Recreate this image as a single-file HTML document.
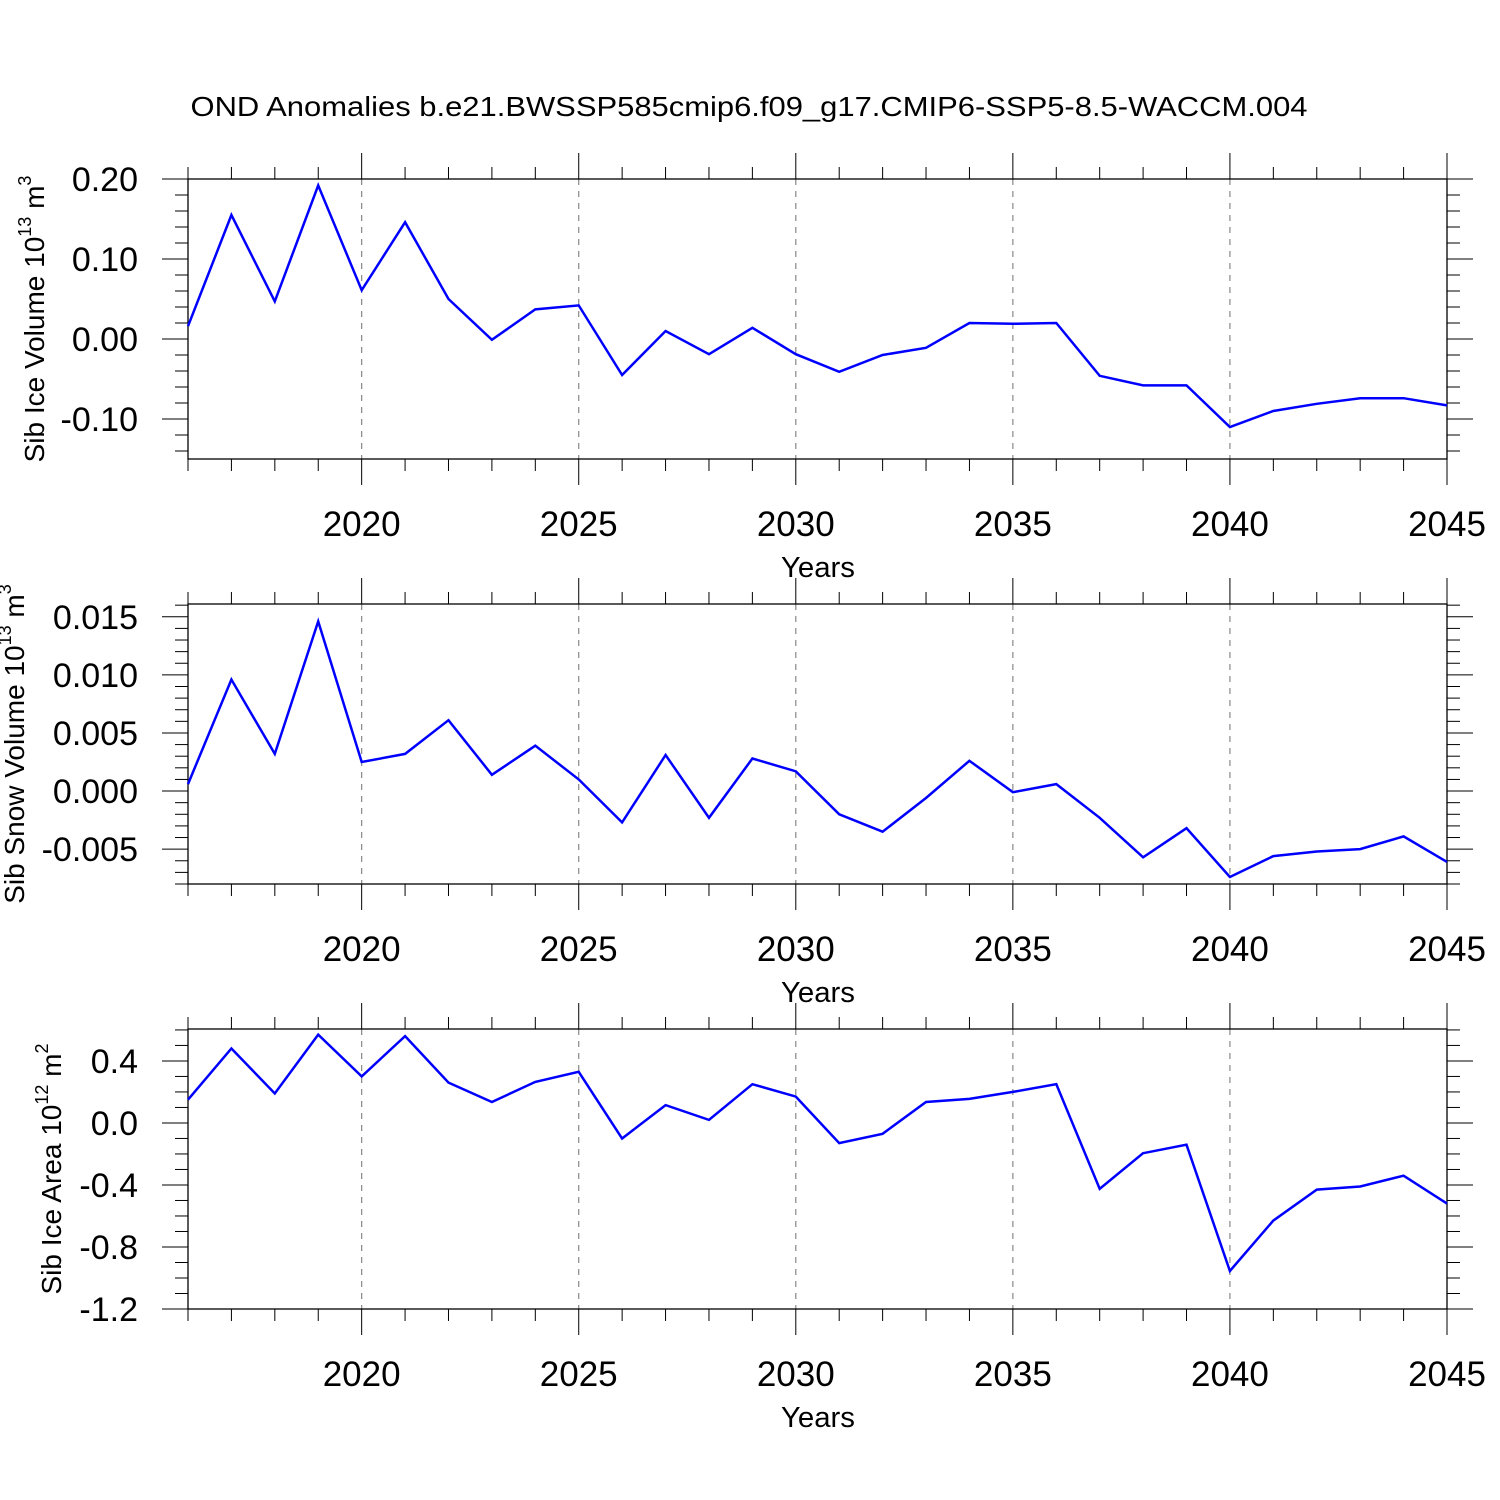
<!DOCTYPE html>
<html><head><meta charset="utf-8">
<style>html,body{margin:0;padding:0;background:#fff}svg{display:block}</style>
</head><body>
<svg id="chart" width="1500" height="1500" xmlns="http://www.w3.org/2000/svg" font-family="'Liberation Sans', sans-serif">
<rect width="1500" height="1500" fill="#fff"/>
<text x="749" y="116" font-size="28" text-anchor="middle" textLength="1117" lengthAdjust="spacingAndGlyphs">OND Anomalies b.e21.BWSSP585cmip6.f09_g17.CMIP6-SSP5-8.5-WACCM.004</text>
</svg>
<script>
const years = [2016,2017,2018,2019,2020,2021,2022,2023,2024,2025,2026,2027,2028,2029,2030,2031,2032,2033,2034,2035,2036,2037,2038,2039,2040,2041,2042,2043,2044,2045];
const iceVolume = [0.016,0.155,0.047,0.192,0.061,0.146,0.05,-0.001,0.037,0.042,-0.045,0.01,-0.019,0.014,-0.019,-0.041,-0.02,-0.011,0.02,0.019,0.02,-0.046,-0.058,-0.058,-0.11,-0.09,-0.081,-0.074,-0.074,-0.083];
const snowVolume = [0.0006,0.0096,0.0032,0.0146,0.0025,0.0032,0.0061,0.0014,0.0039,0.001,-0.0027,0.0031,-0.0023,0.0028,0.0017,-0.002,-0.0035,-0.0006,0.0026,-0.0001,0.0006,-0.0023,-0.0057,-0.0032,-0.0074,-0.0056,-0.0052,-0.005,-0.0039,-0.0061];
const iceArea = [0.15,0.48,0.19,0.57,0.30,0.56,0.26,0.135,0.265,0.33,-0.10,0.115,0.02,0.25,0.17,-0.13,-0.07,0.135,0.155,0.2,0.25,-0.425,-0.195,-0.14,-0.955,-0.63,-0.43,-0.41,-0.34,-0.52];
const xTickLabels = [2020,2025,2030,2035,2040,2045];
const iceVolTicks = [0.20,0.10,0.00,-0.10];
const snowVolTicks = [0.015,0.010,0.005,0.000,-0.005];
const iceAreaTicks = [0.4,0.0,-0.4,-0.8,-1.2];

const NS='http://www.w3.org/2000/svg';
const svg=document.getElementById('chart');
const X0=188,X1=1447,YR0=2016,YR1=2045;
function xs(v){return X0+(v-YR0)/(YR1-YR0)*(X1-X0);}
function el(tag,attrs,parent){const e=document.createElementNS(NS,tag);for(const k in attrs)e.setAttribute(k,attrs[k]);(parent||svg).appendChild(e);return e;}

function panel(name,top,bottom,ymin,ymax,majors,minorStep,decimals,data,labelMain,exp,unit,titleX){
  const g=el('g',{});
  
  
  const ys=v=>bottom-(v-ymin)/(ymax-ymin)*(bottom-top);
  xTickLabels.forEach(y=>{ if(y<YR1){ const l=el('line',{x1:xs(y),x2:xs(y),y1:top,y2:bottom,stroke:'#888','stroke-width':1.2,'stroke-dasharray':'6,6'},g);
    
    }});
  for(let y=YR0;y<=YR1;y++){
    const maj=xTickLabels.includes(y);const L=maj?26:12;
    el('line',{x1:xs(y),x2:xs(y),y1:top-L,y2:top,stroke:'#000','stroke-width':1},g);
    el('line',{x1:xs(y),x2:xs(y),y1:bottom,y2:bottom+L,stroke:'#000','stroke-width':1},g);
  }
  xTickLabels.forEach(y=>{const t=el('text',{x:xs(y),y:bottom+77,'font-size':35,'text-anchor':'middle'},g);t.textContent=y;
    
    });
  const xt=el('text',{x:818,y:bottom+118,'font-size':29,'text-anchor':'middle',textLength:74,lengthAdjust:'spacingAndGlyphs'},g);xt.textContent='Years';
  
  
  const start=Math.ceil(ymin/minorStep-1e-6);
  for(let i=start;i*minorStep<=ymax+1e-9;i++){
    const v=i*minorStep;const yy=ys(v);
    const maj=majors.some(m=>Math.abs(m-v)<minorStep/10);const L=maj?26:13;
    el('line',{x1:X0-L,x2:X0,y1:yy,y2:yy,stroke:'#000','stroke-width':1},g);
    el('line',{x1:X1,x2:X1+L,y1:yy,y2:yy,stroke:'#000','stroke-width':1},g);
  }
  majors.forEach(m=>{const t=el('text',{x:138,y:ys(m)+12,'font-size':34,'text-anchor':'end'},g);t.textContent=m.toFixed(decimals);
    
    });
  el('rect',{x:X0,y:top,width:X1-X0,height:bottom-top,fill:'none',stroke:'#000','stroke-width':1.3},g);
  const pts=years.map((y,i)=>xs(y).toFixed(1)+','+ys(data[i]).toFixed(1)).join(' ');
  const pl=el('polyline',{points:pts,fill:'none',stroke:'#0000ff','stroke-width':2.5,'stroke-linejoin':'miter'},g);
  
  
  const cy=(top+bottom)/2;
  const yt=el('text',{x:0,y:0,'font-size':28,'text-anchor':'middle',transform:`translate(${titleX},${cy}) rotate(-90)`},g);
  
  
  const a=el('tspan',{},yt);a.textContent=labelMain+' 10';
  const b=el('tspan',{dy:-13,'font-size':18},yt);b.textContent=exp;
  const c=el('tspan',{dy:13},yt);c.textContent=' m';
  const d=el('tspan',{dy:-13,'font-size':18},yt);d.textContent=unit;
}
panel('ice-volume',179,459,-0.15,0.2,iceVolTicks,0.02,2,iceVolume,'Sib Ice Volume','13','3',44);
panel('snow-volume',604,884,-0.0080,0.0161,snowVolTicks,0.001,3,snowVolume,'Sib Snow Volume','13','3',24);
panel('ice-area',1029,1309,-1.2,0.606,iceAreaTicks,0.1,1,iceArea,'Sib Ice Area','12','2',61);
</script>
</body></html>
